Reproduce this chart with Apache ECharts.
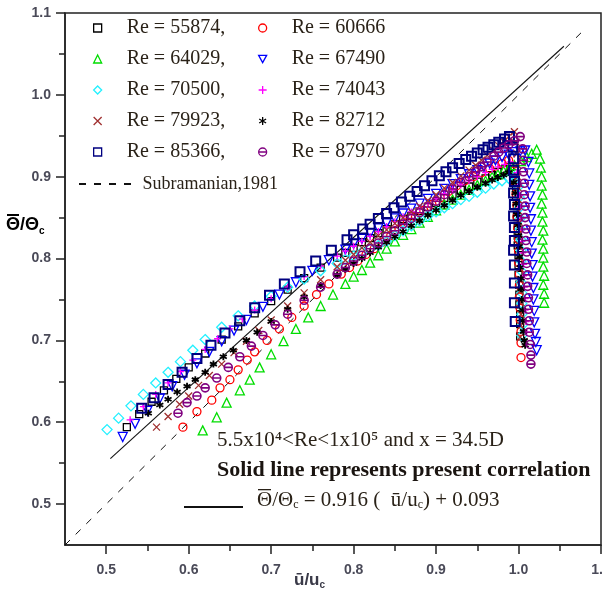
<!DOCTYPE html>
<html><head><meta charset="utf-8">
<script src="https://cdn.jsdelivr.net/npm/echarts@6/dist/echarts.min.js"></script>
<style>html,body{margin:0;padding:0;background:#fff}#c{width:603px;height:595px}</style>
</head><body><div id="c"></div>
<script>
// ---------- data ----------
const reNumbers = ['55874','60666','64029','67490','70500','74043','79923','82712','85366','87970'];
const legendCol1 = ['55874','64029','70500','79923','85366'];
const legendCol2 = ['60666','67490','74043','82712','87970'];
const xTickValues = [0.5,0.6,0.7,0.8,0.9,1.0,1.1];
const yTickValues = [0.5,0.6,0.7,0.8,0.9,1.0,1.1];
const minorTickValues = [0.55,0.65,0.75,0.85,0.95,1.05];

const re55874 = [[0.525,0.594],[0.54,0.610],[0.555,0.625],[0.57,0.639],[0.585,0.653],[0.60,0.667],[0.62,0.684],[0.64,0.701],[0.66,0.717],[0.68,0.733],[0.70,0.748],[0.72,0.762],[0.74,0.776],[0.76,0.789],[0.78,0.801],
  [0.79,0.807],[0.80,0.813],[0.81,0.820],[0.82,0.825],[0.83,0.831],[0.84,0.836],[0.85,0.842],[0.86,0.848],[0.87,0.852],[0.88,0.858],[0.89,0.863],[0.90,0.868],[0.91,0.874],[0.92,0.878],[0.93,0.884],[0.94,0.888],[0.95,0.894],[0.96,0.898],[0.968,0.902],[0.975,0.906],[0.983,0.909],[0.99,0.912],
  [0.996,0.90],[0.997,0.888],[0.997,0.876],[0.998,0.864],[0.998,0.852],[0.999,0.84],[0.999,0.828],[0.999,0.816],[1.0,0.804],[1.0,0.792],[1.0,0.78],[1.001,0.768],[1.001,0.756],[1.001,0.744],[1.002,0.732],[1.002,0.72],[1.002,0.705]];
const re60666 = [[0.593,0.594],[0.61,0.613],[0.628,0.627],[0.638,0.642],[0.65,0.652],[0.66,0.664],[0.671,0.676],[0.68,0.686],[0.695,0.700],[0.71,0.714],[0.725,0.728],[0.74,0.742],[0.755,0.756],[0.77,0.769],[0.785,0.781],
  [0.795,0.789],[0.805,0.797],[0.815,0.805],[0.825,0.812],[0.835,0.820],[0.845,0.828],[0.855,0.836],[0.865,0.844],[0.875,0.851],[0.885,0.859],[0.895,0.866],[0.905,0.874],[0.915,0.882],[0.925,0.889],[0.935,0.895],[0.945,0.900],[0.955,0.905],[0.965,0.910],[0.972,0.913],[0.98,0.916],[0.988,0.92],
  [0.995,0.907],[0.996,0.893],[0.997,0.879],[0.998,0.865],[0.998,0.851],[0.999,0.837],[1.0,0.823],[1.0,0.809],[1.0,0.795],[1.001,0.781],[1.001,0.767],[1.001,0.753],[1.002,0.739],[1.002,0.725],[1.003,0.711],[1.003,0.697],[1.003,0.679]];
const re64029 = [[0.617,0.59],[0.634,0.606],[0.646,0.624],[0.662,0.639],[0.674,0.652],[0.686,0.667],[0.70,0.683],[0.715,0.699],[0.73,0.714],[0.745,0.728],[0.76,0.742],[0.775,0.756],[0.79,0.769],
  [0.80,0.778],[0.81,0.786],[0.82,0.795],[0.83,0.804],[0.84,0.812],[0.85,0.821],[0.86,0.829],[0.87,0.836],[0.88,0.844],[0.89,0.851],[0.90,0.859],[0.91,0.866],[0.92,0.872],[0.93,0.878],[0.94,0.884],[0.95,0.890],[0.96,0.895],[0.968,0.900],[0.975,0.903],[0.982,0.907],[0.988,0.91],[0.995,0.914],[1.003,0.919],[1.01,0.924],[1.016,0.928],[1.022,0.933],
  [1.026,0.922],[1.027,0.911],[1.028,0.9],[1.028,0.889],[1.029,0.878],[1.028,0.867],[1.029,0.856],[1.029,0.845],[1.03,0.834],[1.029,0.823],[1.03,0.812],[1.03,0.801],[1.03,0.79],[1.031,0.779],[1.03,0.768],[1.031,0.757],[1.031,0.746]];
const re67490 = [[0.52,0.582],[0.535,0.598],[0.55,0.614],[0.565,0.629],[0.58,0.644],[0.595,0.658],[0.61,0.672],[0.625,0.686],[0.64,0.699],[0.655,0.712],[0.67,0.725],[0.69,0.741],[0.71,0.756],[0.73,0.771],[0.75,0.785],[0.77,0.798],[0.79,0.811],
  [0.80,0.818],[0.81,0.824],[0.82,0.831],[0.83,0.837],[0.84,0.843],[0.85,0.849],[0.86,0.855],[0.87,0.861],[0.88,0.867],[0.89,0.873],[0.90,0.879],[0.91,0.885],[0.92,0.891],[0.93,0.897],[0.94,0.903],[0.95,0.908],[0.958,0.912],[0.965,0.916],[0.972,0.920],[0.98,0.924],[0.988,0.927],[0.995,0.93],[1.002,0.931],[1.008,0.932],
  [1.012,0.918],[1.013,0.904],[1.013,0.89],[1.014,0.876],[1.014,0.862],[1.015,0.848],[1.015,0.834],[1.016,0.82],[1.016,0.806],[1.017,0.792],[1.017,0.778],[1.018,0.764],[1.018,0.75],[1.019,0.736],[1.019,0.722],[1.02,0.708],[1.021,0.698],[1.022,0.688]];
const re70500 = [[0.501,0.591],[0.515,0.605],[0.53,0.620],[0.545,0.634],[0.56,0.648],[0.575,0.661],[0.59,0.674],[0.605,0.688],[0.62,0.701],[0.64,0.716],[0.66,0.730],[0.68,0.742],[0.70,0.754],[0.72,0.765],[0.74,0.775],[0.76,0.785],[0.78,0.794],
  [0.79,0.799],[0.80,0.803],[0.81,0.808],[0.82,0.812],[0.83,0.816],[0.84,0.821],[0.85,0.828],[0.86,0.834],[0.87,0.840],[0.88,0.846],[0.89,0.852],[0.90,0.857],[0.91,0.862],[0.92,0.867],[0.93,0.872],[0.94,0.876],[0.95,0.881],[0.96,0.886],[0.97,0.891],[0.98,0.895],[0.988,0.898],[0.995,0.90],
  [1.0,0.888],[1.001,0.875],[1.001,0.862],[1.002,0.849],[1.002,0.836],[1.003,0.823],[1.003,0.81],[1.003,0.797],[1.004,0.784],[1.003,0.771],[1.004,0.758],[1.004,0.745],[1.004,0.732],[1.005,0.719],[1.004,0.706]];
const re74043 = [[0.529,0.603],[0.545,0.619],[0.56,0.634],[0.575,0.648],[0.59,0.662],[0.605,0.676],[0.62,0.689],[0.635,0.702],[0.65,0.714],[0.665,0.726],[0.68,0.737],[0.70,0.751],[0.72,0.765],[0.74,0.778],[0.76,0.791],[0.78,0.803],
  [0.79,0.809],[0.80,0.815],[0.81,0.821],[0.82,0.827],[0.83,0.833],[0.84,0.839],[0.85,0.845],[0.86,0.851],[0.87,0.857],[0.88,0.862],[0.89,0.868],[0.90,0.873],[0.91,0.879],[0.92,0.884],[0.93,0.890],[0.94,0.895],[0.95,0.900],[0.96,0.905],[0.968,0.909],[0.975,0.912],[0.983,0.915],[0.99,0.918],
  [0.998,0.905],[1.0,0.891],[1.001,0.877],[1.002,0.863],[1.003,0.849],[1.004,0.835],[1.004,0.821],[1.005,0.807],[1.006,0.793],[1.006,0.779],[1.007,0.765],[1.008,0.751],[1.008,0.737],[1.009,0.723],[1.01,0.71]];
const re79923 = [[0.561,0.594],[0.575,0.607],[0.589,0.622],[0.60,0.632],[0.612,0.645],[0.625,0.657],[0.64,0.671],[0.655,0.685],[0.67,0.699],[0.685,0.712],[0.70,0.725],[0.72,0.742],[0.74,0.758],[0.76,0.774],[0.78,0.790],
  [0.79,0.798],[0.80,0.805],[0.81,0.813],[0.82,0.820],[0.83,0.828],[0.84,0.835],[0.85,0.843],[0.86,0.850],[0.87,0.857],[0.88,0.864],[0.89,0.871],[0.90,0.878],[0.91,0.886],[0.92,0.893],[0.93,0.901],[0.94,0.908],[0.948,0.914],[0.955,0.920],[0.962,0.926],[0.97,0.932],[0.976,0.938],[0.982,0.943],[0.988,0.949],[0.995,0.955],
  [0.997,0.942],[0.998,0.928],[0.999,0.914],[0.999,0.90],[1.0,0.886],[1.0,0.872],[1.0,0.858],[1.001,0.844],[1.001,0.83],[1.001,0.816],[1.002,0.802],[1.002,0.788],[1.002,0.774],[1.002,0.76],[1.003,0.746],[1.003,0.732],[1.003,0.718],[1.002,0.704]];
const re82712 = [[0.551,0.611],[0.565,0.621],[0.575,0.628],[0.586,0.637],[0.598,0.644],[0.608,0.652],[0.62,0.661],[0.63,0.671],[0.642,0.68],[0.654,0.688],[0.67,0.70],[0.683,0.71],[0.70,0.723],[0.72,0.738],[0.74,0.753],[0.76,0.767],[0.78,0.780],
  [0.79,0.787],[0.80,0.794],[0.81,0.800],[0.82,0.807],[0.83,0.814],[0.84,0.820],[0.85,0.827],[0.86,0.833],[0.87,0.840],[0.88,0.846],[0.89,0.853],[0.90,0.859],[0.91,0.865],[0.92,0.871],[0.93,0.877],[0.94,0.882],[0.95,0.887],[0.96,0.892],[0.968,0.896],[0.975,0.899],[0.982,0.902],[0.988,0.905],
  [0.994,0.893],[0.996,0.88],[0.997,0.867],[0.998,0.854],[0.999,0.841],[1.0,0.828],[1.001,0.815],[1.001,0.802],[1.002,0.789],[1.003,0.776],[1.003,0.763],[1.004,0.75],[1.005,0.737],[1.005,0.724],[1.006,0.711],[1.007,0.70],[1.008,0.694]];
const re85366 = [[0.543,0.617],[0.558,0.630],[0.575,0.646],[0.592,0.661],[0.61,0.678],[0.627,0.694],[0.644,0.709],[0.662,0.724],[0.68,0.740],[0.698,0.755],[0.716,0.769],[0.735,0.784],[0.754,0.797],[0.773,0.810],[0.792,0.823],
  [0.80,0.829],[0.811,0.836],[0.82,0.842],[0.83,0.849],[0.84,0.855],[0.849,0.862],[0.858,0.869],[0.868,0.876],[0.877,0.882],[0.886,0.889],[0.895,0.895],[0.904,0.901],[0.912,0.906],[0.92,0.911],[0.928,0.916],[0.936,0.921],[0.943,0.925],[0.95,0.929],[0.957,0.933],[0.963,0.936],[0.97,0.939],[0.976,0.942],[0.983,0.946],[0.989,0.949],
  [0.993,0.936],[0.994,0.922],[0.994,0.908],[0.995,0.894],[0.994,0.88],[0.995,0.866],[0.994,0.852],[0.995,0.838],[0.995,0.822],[0.994,0.81],[0.995,0.792],[0.995,0.77],[0.995,0.746],[0.996,0.723]];
const re87970 = [[0.587,0.611],[0.598,0.624],[0.61,0.632],[0.62,0.642],[0.634,0.654],[0.648,0.667],[0.662,0.680],[0.676,0.693],[0.69,0.706],[0.705,0.719],[0.72,0.732],[0.74,0.749],[0.76,0.765],[0.78,0.781],
  [0.79,0.789],[0.80,0.797],[0.81,0.804],[0.82,0.812],[0.83,0.819],[0.84,0.827],[0.85,0.834],[0.86,0.842],[0.87,0.849],[0.88,0.856],[0.89,0.863],[0.90,0.870],[0.91,0.878],[0.92,0.885],[0.93,0.893],[0.94,0.900],[0.948,0.906],[0.955,0.912],[0.962,0.918],[0.97,0.925],[0.976,0.930],[0.982,0.935],[0.988,0.939],[0.995,0.944],[1.002,0.949],
  [1.005,0.934],[1.006,0.92],[1.006,0.906],[1.007,0.892],[1.007,0.878],[1.008,0.864],[1.008,0.85],[1.009,0.836],[1.009,0.822],[1.01,0.808],[1.01,0.794],[1.011,0.78],[1.011,0.766],[1.012,0.752],[1.012,0.738],[1.013,0.724],[1.013,0.71],[1.014,0.695],[1.015,0.682],[1.015,0.671]];

const correlationLine = [[0.505,0.5556],[1.055,1.0594]];   // 0.916x+0.093
const subramanianLine = [[0.45,0.45],[1.078,1.078]];

const seriesData = {'55874':re55874,'60666':re60666,'64029':re64029,'67490':re67490,'70500':re70500,
  '74043':re74043,'79923':re79923,'82712':re82712,'85366':re85366,'87970':re87970};

// ---------- styles ----------
const styles = {
  '55874': {symbol:'rect', size:7, color:'#000000', bw:1.3},
  '60666': {symbol:'circle', size:8, color:'#ff0000', bw:1.3},
  '64029': {symbol:'triangle', size:9, color:'#00dd00', bw:1.3},
  '67490': {symbol:'path://M0,0L10,0L5,9Z', size:9, color:'#0000ff', bw:1.3},
  '70500': {symbol:'diamond', size:10, color:'#22f0ff', bw:1.3},
  '74043': {symbol:'path://M5,0L5,10M0,5L10,5', size:7, color:'#ff00ff', bw:1.3},
  '79923': {symbol:'path://M0,0L10,10M0,10L10,0', size:7, color:'#a03030', bw:1.3},
  '82712': {symbol:'path://M5,0L5,10M0.67,2.5L9.33,7.5M0.67,7.5L9.33,2.5', size:7, color:'#000000', bw:1.8},
  '85366': {symbol:'rect', size:9, color:'#000080', bw:2},
  '87970': {symbol:'path://M0,5A5,5 0 1 1 10,5A5,5 0 1 1 0,5ZM0,5L10,5', size:8, color:'#800080', bw:1.6}
};

const series = reNumbers.map(re => ({
  name: re, type: 'scatter', data: seriesData[re],
  symbol: styles[re].symbol, symbolSize: styles[re].size,
  itemStyle: {color:'rgba(0,0,0,0)', borderColor: styles[re].color, borderWidth: styles[re].bw, opacity:1},
  emphasis:{disabled:true}, z: 3
}));
series.push({name:'Subramanian', type:'line', data: subramanianLine, symbol:'none', silent:true,
  itemStyle:{color:'rgba(0,0,0,0)', borderColor:'rgba(0,0,0,0)'},
  lineStyle:{color:'#111', width:1, type:[7,8]}, z:2});
series.push({name:'Correlation', type:'line', data: correlationLine, symbol:'none', silent:true,
  itemStyle:{color:'rgba(0,0,0,0)', borderColor:'rgba(0,0,0,0)'},
  lineStyle:{color:'#111', width:1.1}, z:2});

const serif = '"Liberation Serif","Times New Roman",serif';
const sans = '"Liberation Sans",Arial,sans-serif';
const textColor = '#2a2218';

function scatterLegend(left, names, comma) {
  return {
    orient:'vertical', left: left, top: 18, padding: 0, itemGap: 11, itemWidth: 8, itemHeight: 8,
    data: names, selectedMode:false,
    itemStyle:{borderWidth:1.3},
    formatter: n => '    Re = ' + n + (comma ? ',' : ''),
    textStyle: {fontFamily: serif, fontSize: 20, color: textColor}
  };
}

const axisColor = '#222';
const labelStyle = {fontFamily: sans, fontSize: 14, fontWeight:'bold', color:'#4a4a58'};

const option = {
  animation:false,
  backgroundColor:'#ffffff',
  grid:{left:65, right:2, top:13, bottom:50, show:true, borderColor:axisColor, borderWidth:1.5, outerBoundsMode:'none', containLabel:false},
  xAxis:[
    {type:'value', min:0.45, max:1.1, position:'bottom',
     axisLine:{show:true, onZero:false, lineStyle:{color:axisColor, width:1.5}},
     axisTick:{show:true, inside:false, length:9, customValues:xTickValues, lineStyle:{color:axisColor, width:1.5}},
     axisLabel:{customValues:xTickValues, formatter:v=>Number(v).toFixed(1), margin:18, ...labelStyle},
     splitLine:{show:false}},
    {type:'value', min:0.45, max:1.1, position:'bottom',
     axisLine:{show:false, onZero:false},
     axisTick:{show:true, inside:false, length:6, customValues:minorTickValues, lineStyle:{color:axisColor, width:1.5}},
     axisLabel:{show:false}, splitLine:{show:false}}
  ],
  yAxis:[
    {type:'value', min:0.45, max:1.1, position:'left',
     axisLine:{show:true, onZero:false, lineStyle:{color:axisColor, width:1.5}},
     axisTick:{show:true, inside:false, length:9, customValues:yTickValues, lineStyle:{color:axisColor, width:1.5}},
     axisLabel:{customValues:yTickValues, formatter:v=>Number(v).toFixed(1), margin:14, ...labelStyle},
     splitLine:{show:false}},
    {type:'value', min:0.45, max:1.1, position:'left',
     axisLine:{show:false, onZero:false},
     axisTick:{show:true, inside:false, length:6, customValues:minorTickValues, lineStyle:{color:axisColor, width:1.5}},
     axisLabel:{show:false}, splitLine:{show:false}}
  ],
  legend:[
    scatterLegend(93, legendCol1, true),
    scatterLegend(258, legendCol2, false),
    {left:78, top:175, padding:0, itemWidth:54, itemHeight:14, data:['Subramanian'], selectedMode:false,
     itemStyle:{borderWidth:0}, formatter:()=>' Subramanian,1981', textStyle:{fontFamily: serif, fontSize: 18, color: textColor}},
    {left:183, top:498, padding:0, itemWidth:59, itemHeight:14, data:['Correlation'], selectedMode:false,
     itemStyle:{borderWidth:0}, formatter:()=>' ', textStyle:{fontFamily: serif, fontSize: 18, color: textColor}}
  ],
  graphic:[
    {type:'text', left:217, top:430, style:{text:'5.5x10\u2074<Re<1x10\u2075 and x = 34.5D', font:'21px '+serif, fill:textColor}},
    {type:'text', left:217, top:459, style:{text:'Solid line represents present correlation', font:'bold 22px '+serif, fill:'#1a1410'}},
    {type:'group', left:257, top:489, children:[
      {type:'text', x:0, y:0, style:{
        text:'{a|\u0398/\u0398}{s|c}{a| = 0.916 (  \u016b/u}{s|c}{a|) + 0.093}',
        rich:{a:{font:'21px '+serif, fill:textColor, lineHeight:22},
              s:{font:'12px '+serif, fill:textColor, lineHeight:22, verticalAlign:'bottom', padding:[9,0,0,0]}}}},
      {type:'rect', shape:{x:1, y:0, width:13, height:1.3}, style:{fill:textColor}}
    ]},
    {type:'group', left:6, top:214, children:[
      {type:'text', x:0, y:0, style:{
        text:'{b|\u0398/\u0398}{s|c}',
        rich:{b:{font:'bold 18px '+sans, fill:'#000', lineHeight:22}, s:{font:'bold 10px '+sans, fill:'#000', lineHeight:22, verticalAlign:'bottom', padding:[9,0,0,0]}}}},
      {type:'rect', shape:{x:1, y:0, width:12, height:2}, style:{fill:'#000'}}
    ]},
    {type:'text', left:294, top:572, style:{
      text:'{b|\u016b/u}{s|c}',
      rich:{b:{font:'bold 17px '+sans, fill:'#3a3a48', lineHeight:20}, s:{font:'bold 10px '+sans, fill:'#3a3a48', lineHeight:20, verticalAlign:'bottom', padding:[8,0,0,0]}}}}
  ],
  series: series
};

const chart = echarts.init(document.getElementById('c'), null, {renderer:'canvas'});
chart.setOption(option);
</script>
</body></html>
